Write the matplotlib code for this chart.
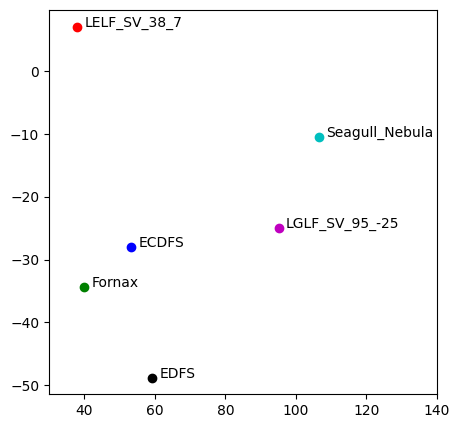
import matplotlib
matplotlib.use("Agg")
import matplotlib.pyplot as plt

# Field positions.
names = ["LELF_SV_38_7", "Seagull_Nebula", "LGLF_SV_95_-25", "ECDFS", "Fornax", "EDFS"]
x_vals = [38.0, 106.5, 95.2, 53.3, 40.0, 59.3]
y_vals = [7.0, -10.5, -25.0, -28.0, -34.4, -48.8]
colors = ["r", "c", "m", "b", "g", "k"]

fig = plt.figure(figsize=(4.59, 4.28), dpi=100)
ax = fig.add_axes([49 / 459, 34 / 428, 388 / 459, 384.3 / 428])

for name, x, y, c in zip(names, x_vals, y_vals, colors):
    ax.scatter(x, y, color=c)
    ax.text(x + 2, y, name)

ax.set_xlim(30, 140)
ax.set_ylim(-51.4, 9.8)

fig.savefig("out.png", dpi=100)
